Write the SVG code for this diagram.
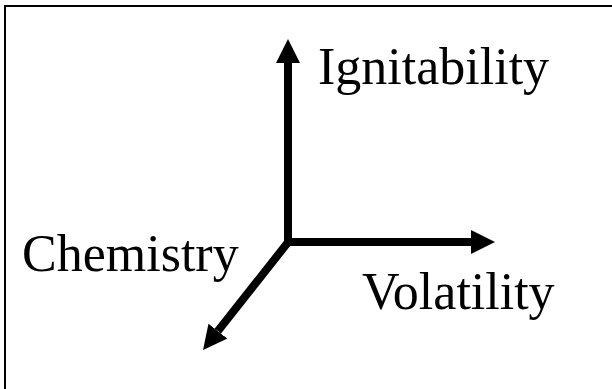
<svg xmlns="http://www.w3.org/2000/svg" width="612" height="389" viewBox="0 0 612 389">
  <style>
    .lbl { font-family: "Liberation Serif", "Times New Roman", serif; font-size: 52px; fill: #000; }
    .axis { stroke: #000; stroke-width: 8; fill: none; stroke-linecap: butt; }
  </style>
  <defs>
    <marker id="head" viewBox="0 0 24 24" markerWidth="24" markerHeight="24" markerUnits="userSpaceOnUse" refX="0" refY="12" orient="auto">
      <path d="M0,0 L24,12 L0,24 z" fill="#000"/>
    </marker>
  </defs>
  <rect x="0" y="0" width="612" height="389" fill="#fff"/>
  <rect id="frame" x="5" y="6" width="700" height="500" fill="none" stroke="#000" stroke-width="2"/>
  <g id="connectors">
    <line class="axis" x1="288" y1="246" x2="288" y2="63" marker-end="url(#head)"/>
    <line class="axis" x1="284" y1="242" x2="471" y2="242" marker-end="url(#head)"/>
    <line class="axis" x1="289" y1="241" x2="217.9" y2="331.1" marker-end="url(#head)"/>
  </g>
  <g id="ignitability"><text class="lbl" x="318" y="84">Ignitability</text></g>
  <g id="chemistry"><text class="lbl" x="22" y="271">Chemistry</text></g>
  <g id="volatility"><text class="lbl" x="362" y="309">Volatility</text></g>
</svg>
